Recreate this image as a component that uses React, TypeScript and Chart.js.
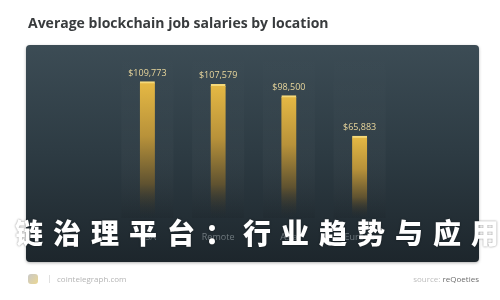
import React, { useEffect, useRef } from "react";
import { Chart, registerables } from "chart.js";

Chart.register(...registerables);

// Chart content
const chartTitle = "Average blockchain job salaries by location";
const locations = ["USA", "Remote", "Asia", "Europe"];
const salaries = [109773, 107579, 98500, 65883];
const overlayText = "链治理平台：行业趋势与应用";
const siteName = "cointelegraph.com";
const sourcePrefix = "source:";
const sourceName = "reQoeties";

const money = (v: number) => "$" + v.toLocaleString("en-US");

const FONT = "'Open Sans', 'Noto Sans', sans-serif";

// Card background, title, faint columns and footer
const framePlugin = {
  id: "frame",
  beforeDraw(chart: any) {
    const ctx = chart.ctx as CanvasRenderingContext2D;
    ctx.save();
    ctx.fillStyle = "#ffffff";
    ctx.fillRect(0, 0, chart.width, chart.height);

    ctx.fillStyle = "#383b3d";
    ctx.font = `bold 14px ${FONT}`;
    ctx.textBaseline = "alphabetic";
    ctx.textAlign = "left";
    ctx.fillText(chartTitle, 28, 28);

    const x = 26, y = 45, w = 453, h = 217;
    ctx.shadowColor = "rgba(0,0,0,0.3)";
    ctx.shadowBlur = 3;
    ctx.shadowOffsetY = 1;
    const g = ctx.createLinearGradient(0, y, 0, y + h);
    g.addColorStop(0, "#3c4c55");
    g.addColorStop(0.5, "#2d3b43");
    g.addColorStop(1, "#1d262c");
    ctx.fillStyle = g;
    ctx.beginPath();
    ctx.roundRect(x, y, w, h, 4);
    ctx.fill();
    ctx.restore();
  },
  beforeDatasetsDraw(chart: any) {
    const ctx = chart.ctx as CanvasRenderingContext2D;
    const meta = chart.getDatasetMeta(0);
    const area = chart.chartArea;
    ctx.save();
    meta.data.forEach((bar: any) => {
      const g = ctx.createLinearGradient(0, 50, 0, area.bottom);
      g.addColorStop(0, "rgba(255,255,255,0.0)");
      g.addColorStop(0.6, "rgba(255,255,255,0.025)");
      g.addColorStop(1, "rgba(0,0,0,0.06)");
      ctx.fillStyle = g;
      ctx.fillRect(bar.x - 26, 50, 52, area.bottom - 50);
    });
    ctx.restore();
  },
  afterDatasetsDraw(chart: any) {
    const ctx = chart.ctx as CanvasRenderingContext2D;
    const meta = chart.getDatasetMeta(0);
    ctx.save();
    ctx.font = `9px ${FONT}`;
    ctx.fillStyle = "#e8d69c";
    ctx.textAlign = "center";
    ctx.textBaseline = "alphabetic";
    meta.data.forEach((bar: any, i: number) => {
      ctx.fillText(money(salaries[i]), bar.x, bar.y - 6);
    });
    ctx.restore();
  },
  afterDraw(chart: any) {
    const ctx = chart.ctx as CanvasRenderingContext2D;
    ctx.save();
    // small logo mark
    const lg = ctx.createLinearGradient(28, 274, 40, 285);
    lg.addColorStop(0, "#c9c9c9");
    lg.addColorStop(1, "#f0d98a");
    ctx.fillStyle = lg;
    ctx.beginPath();
    ctx.roundRect(28, 274, 10, 10, 3);
    ctx.fill();
    ctx.fillStyle = "#e0e0e0";
    ctx.fillRect(49, 275, 1, 8);

    ctx.font = `8px ${FONT}`;
    ctx.textBaseline = "middle";
    ctx.textAlign = "left";
    ctx.fillStyle = "#b4b4b4";
    ctx.fillText(siteName, 57, 279.5);

    ctx.textAlign = "right";
    ctx.fillStyle = "#6e6e6e";
    ctx.fillText(sourceName, 479, 279.5);
    const w = ctx.measureText(sourceName).width;
    ctx.fillStyle = "#bdbdbd";
    ctx.fillText(sourcePrefix + " ", 479 - w, 279.5);
    ctx.restore();
  },
};

export default function App() {
  const canvasRef = useRef<HTMLCanvasElement | null>(null);

  useEffect(() => {
    const canvas = canvasRef.current;
    if (!canvas) return;
    const chart = new Chart(canvas, {
      type: "bar",
      data: {
        labels: locations,
        datasets: [
          {
            data: salaries,
            barThickness: 15,
            backgroundColor: (c: any) => {
              const ch = c.chart;
              const area = ch.chartArea;
              const ys = ch.scales && ch.scales.y;
              if (!area || !ys || c.dataIndex === undefined) return "#d4a93c";
              const top = ys.getPixelForValue(salaries[c.dataIndex]);
              const g = ch.ctx.createLinearGradient(0, top, 0, area.bottom);
              g.addColorStop(0, "#e6b944");
              g.addColorStop(0.4, "#b8923a");
              g.addColorStop(0.75, "#5f5230");
              g.addColorStop(1, "rgba(35,40,42,0)");
              return g;
            },
            borderColor: "#f5d97a",
            borderWidth: { top: 2, left: 0, right: 0, bottom: 0 },
            borderSkipped: "bottom",
          },
        ],
      },
      options: {
        responsive: false,
        animation: false,
        devicePixelRatio: 1,
        layout: { padding: { left: 112, right: 105, top: 69, bottom: 52 } },
        plugins: {
          legend: { display: false },
          title: { display: false },
          tooltip: { enabled: false },
        },
        scales: {
          x: {
            grid: { display: false },
            border: { display: false },
            ticks: {
              color: "rgba(205,212,218,0.45)",
              font: { size: 9, family: FONT },
              padding: 6,
            },
            afterFit: (s: any) => {
              s.height = 30;
            },
          },
          y: { display: false, min: 0, max: 120000 },
        },
      },
      plugins: [framePlugin],
    });
    return () => chart.destroy();
  }, []);

  return (
    <div style={{ position: "fixed", left: 0, top: 0, width: 500, height: 300, overflow: "hidden", background: "#fff" }}>
      <canvas ref={canvasRef} width={500} height={300} style={{ display: "block" }} />
      <div
        style={{
          position: "absolute",
          left: 15,
          top: 217,
          fontFamily: "'Noto Sans CJK SC', sans-serif",
          fontWeight: 900,
          fontSize: 28,
          lineHeight: "30px",
          letterSpacing: 10,
          color: "#ffffff",
          whiteSpace: "nowrap",
          textShadow: "0 0 2px rgba(0,0,0,0.5)",
        }}
      >
        {overlayText}
      </div>
    </div>
  );
}
